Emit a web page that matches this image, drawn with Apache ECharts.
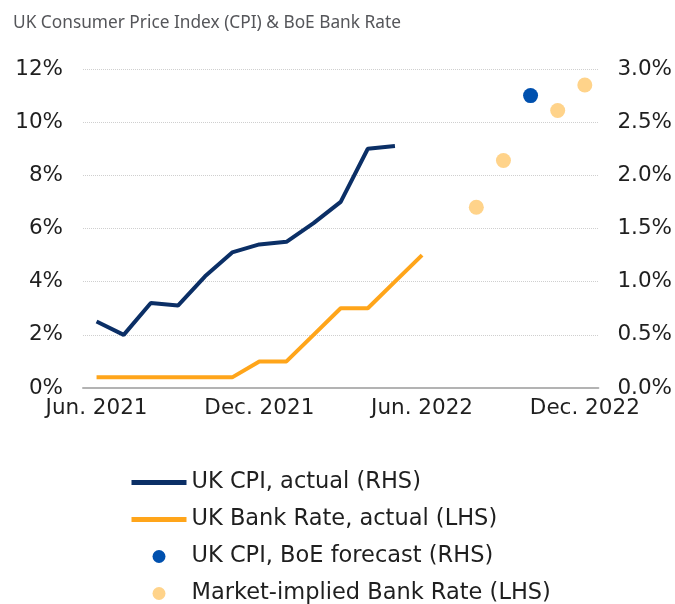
<!DOCTYPE html>
<html>

<head>
	<meta charset="UTF-8">
	<title></title>
	<style>
		html, body {
			margin: 0;
			padding: 0;
			background: #fff;
		}
		#chart {
			width: 675px;
			height: 604px;
		}
	</style>
	<script src="https://cdn.jsdelivr.net/npm/echarts@6/dist/echarts.min.js"></script>
</head>

<body>
	<div id="chart"></div>
	<script>
		var months = ['Jun. 2021', 'Jul. 2021', 'Aug. 2021', 'Sep. 2021', 'Oct. 2021', 'Nov. 2021',
			'Dec. 2021', 'Jan. 2022', 'Feb. 2022', 'Mar. 2022', 'Apr. 2022', 'May. 2022',
			'Jun. 2022', 'Jul. 2022', 'Aug. 2022', 'Sep. 2022', 'Oct. 2022', 'Nov. 2022', 'Dec. 2022'];
		// CPI, % (plotted against the 0-12% scale)
		var cpiActual = [2.5, 2.0, 3.2, 3.1, 4.2, 5.1, 5.4, 5.5, 6.2, 7.0, 9.0, 9.1,
			null, null, null, null, null, null, null];
		var cpiForecast = [null, null, null, null, null, null, null, null, null, null, null, null,
			null, null, null, null, 11.0, null, null];
		// Bank Rate, % (plotted against the 0-3% scale)
		var bankRate = [0.1, 0.1, 0.1, 0.1, 0.1, 0.1, 0.25, 0.25, 0.5, 0.75, 0.75, 1.0,
			1.25, null, null, null, null, null, null];
		var marketRate = [null, null, null, null, null, null, null, null, null, null, null, null,
			null, null, 1.7, 2.14, null, 2.61, 2.85];

		var fontFamily = '"DejaVu Sans", sans-serif';
		var textColor = '#1f1f1f';

		var mychart = echarts.init(document.getElementById('chart'));
		mychart.setOption({
			animation: false,
			textStyle: {
				fontFamily: fontFamily
			},
			title: {
				text: 'UK Consumer Price Index (CPI) & BoE Bank Rate',
				left: 8,
				top: 10,
				textStyle: {
					fontFamily: '"Noto Sans", sans-serif',
					fontSize: 17.3,
					fontWeight: 'normal',
					color: '#55565a'
				}
			},
			grid: {
				left: 83,
				right: 76,
				top: 69,
				bottom: 216
			},
			legend: {
				orient: 'vertical',
				left: 124,
				top: 466,
				height: 140,
				itemWidth: 55,
				itemHeight: 13,
				itemGap: 14,
				lineStyle: {
					width: 5
				},
				textStyle: {
					fontFamily: fontFamily,
					fontSize: 22.5,
					lineHeight: 23,
					color: textColor
				},
				data: [
					{ name: 'UK CPI, actual (RHS)', itemStyle: { opacity: 0 } },
					{ name: 'UK Bank Rate, actual (LHS)', itemStyle: { opacity: 0 } },
					{ name: 'UK CPI, BoE forecast (RHS)' },
					{ name: 'Market-implied Bank Rate (LHS)' }
				]
			},
			xAxis: {
				type: 'category',
				data: months,
				boundaryGap: true,
				axisLine: {
					lineStyle: {
						color: '#b3b3b3',
						width: 2
					}
				},
				axisTick: {
					interval: 5,
					length: 8,
					lineStyle: {
						color: '#b3b3b3',
						width: 2
					}
				},
				axisLabel: {
					interval: 5,
					margin: 9,
					fontSize: 21.5,
					color: textColor,
					fontFamily: fontFamily
				}
			},
			yAxis: [
				{
					type: 'value',
					min: 0,
					max: 12,
					interval: 2,
					axisLine: { show: false },
					axisTick: { show: false },
					axisLabel: {
						formatter: '{value}%',
						margin: 20,
						fontSize: 21.5,
						color: textColor,
						fontFamily: fontFamily
					},
					splitLine: {
						lineStyle: {
							color: '#cfcfcf',
							type: 'dotted',
							width: 1
						}
					}
				},
				{
					type: 'value',
					min: 0,
					max: 3,
					interval: 0.5,
					axisLine: { show: false },
					axisTick: { show: false },
					axisLabel: {
						formatter: function (v) {
							return v.toFixed(1) + '%';
						},
						margin: 19,
						fontSize: 21.5,
						color: textColor,
						fontFamily: fontFamily
					},
					splitLine: { show: false }
				}
			],
			series: [
				{
					name: 'UK CPI, actual (RHS)',
					type: 'line',
					yAxisIndex: 0,
					data: cpiActual,
					symbol: 'none',
					showSymbol: false,
					connectNulls: false,
					itemStyle: { color: '#0b2f66' },
					lineStyle: { color: '#0b2f66', width: 4 }
				},
				{
					name: 'UK Bank Rate, actual (LHS)',
					type: 'line',
					yAxisIndex: 1,
					data: bankRate,
					symbol: 'none',
					showSymbol: false,
					connectNulls: false,
					itemStyle: { color: '#ffa51a' },
					lineStyle: { color: '#ffa51a', width: 4 }
				},
				{
					name: 'UK CPI, BoE forecast (RHS)',
					type: 'scatter',
					yAxisIndex: 0,
					data: cpiForecast,
					symbol: 'circle',
					symbolSize: 15,
					itemStyle: { color: '#0050ae', opacity: 1 }
				},
				{
					name: 'Market-implied Bank Rate (LHS)',
					type: 'scatter',
					yAxisIndex: 1,
					data: marketRate,
					symbol: 'circle',
					symbolSize: 15,
					itemStyle: { color: '#ffd38a', opacity: 1 }
				}
			]
		});
	</script>
</body>

</html>
